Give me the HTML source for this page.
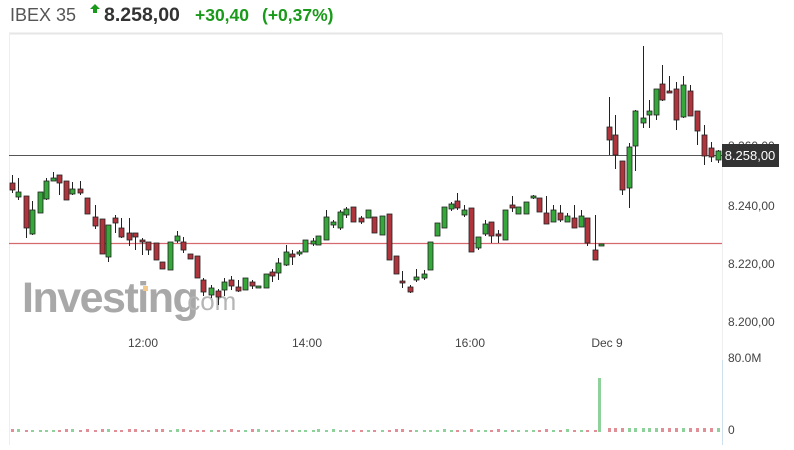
<!DOCTYPE html>
<html><head><meta charset="utf-8"><style>
body{margin:0;background:#fff;width:794px;height:445px;overflow:hidden;font-family:"Liberation Sans",Arial,sans-serif;}
</style></head><body>
<svg id="s" width="794" height="445" xmlns="http://www.w3.org/2000/svg" font-family="Liberation Sans, Arial, sans-serif">
<text x="10" y="21" font-size="18" fill="#555">IBEX 35</text>
<polygon points="95,4 100,9 97,9 97,13 93,13 93,9 90,9" fill="#1a9a1a"/>
<text x="104" y="21" font-size="19.5" font-weight="bold" fill="#333">8.258,00</text>
<text x="195" y="21" font-size="17.5" font-weight="bold" fill="#1a9a1a">+30,40</text>
<text x="262" y="21" font-size="17.5" font-weight="bold" fill="#1a9a1a">(+0,37%)</text>
<line x1="9" y1="33.5" x2="722" y2="33.5" stroke="#e6e6e6" stroke-width="2"/>
<line x1="9.5" y1="33" x2="9.5" y2="445" stroke="#eee"/>
<line x1="722.5" y1="33" x2="722.5" y2="360" stroke="#eee"/>
<line x1="722.5" y1="360" x2="722.5" y2="445" stroke="#cfe0ee"/>
<text x="22" y="312" font-size="43" font-weight="bold" fill="#a8a8a8" letter-spacing="-1.5">Investing</text>
<text x="180" y="310" font-size="26" fill="#b5b5b5">.com</text>
<rect x="143" y="286" width="5" height="5" fill="#f2c98a"/>
<line x1="9" y1="155.5" x2="722" y2="155.5" stroke="#555"/>
<line x1="9" y1="243.5" x2="722" y2="243.5" stroke="#d46a70" stroke-width="1.2"/>
<g font-size="12" fill="#444">
<text x="728" y="150">8.260,00</text>
<text x="728" y="210">8.240,00</text>
<text x="728" y="268">8.220,00</text>
<text x="728" y="326">8.200,00</text>
<text x="728" y="362">80.0M</text>
<text x="728" y="434">0</text>
<text x="143" y="347" text-anchor="middle">12:00</text>
<text x="307" y="347" text-anchor="middle">14:00</text>
<text x="470" y="347" text-anchor="middle">16:00</text>
<text x="607" y="347" text-anchor="middle">Dec 9</text>
</g>
<rect x="722" y="144" width="57" height="23" fill="#333"/>
<text x="750" y="160" font-size="13" fill="#fff" text-anchor="middle">8.258,00</text>
<g id="c"></g>
</svg>
<script>
var d=[[12,'r',183,190,175,193],[18,'g',192,197,178,200],[26,'r',196,228,196,238],[32,'g',210,234,201,235],[40,'g',192,213,192,213],[46,'g',181,199,178,200],[53,'g',178,181,172,181],[59,'r',175,183,175,195],[66,'r',181,200,181,200],[72,'g',189,194,182,195],[80,'r',189,193,181,195],[87,'r',198,214,198,214],[95,'r',217,226,205,229],[102,'r',219,254,219,254],[108,'g',225,257,225,262],[115,'r',218,223,215,233],[121,'r',228,237,218,238],[129,'r',233,240,218,246],[135,'r',233,237,233,250],[142,'r',240,242,238,255],[148,'r',242,250,243,255],[156,'r',243,260,243,260],[162,'r',262,269,262,269],[170,'g',242,270,242,270],[177,'g',236,241,231,243],[183,'r',242,250,237,253],[190,'r',254,259,254,259],[197,'r',256,278,256,278],[203,'r',280,292,278,296],[211,'g',288,295,285,298],[218,'r',291,297,289,305],[224,'g',282,290,278,296],[231,'r',280,286,276,290],[238,'r',287,291,280,292],[245,'g',278,290,278,290],[252,'r',282,286,280,289],[258,'g',286,288,286,288],[266,'g',274,288,274,288],[272,'r',272,276,269,282],[278,'g',263,273,258,280],[286,'g',252,265,245,266],[292,'r',254,257,250,265],[299,'g',252,254,250,256],[305,'g',240,252,240,252],[313,'g',241,244,238,246],[318,'g',236,245,236,245],[326,'g',217,240,210,240],[333,'g',222,225,220,228],[340,'g',212,228,210,230],[346,'g',209,215,207,218],[353,'r',207,222,207,222],[361,'r',218,222,216,224],[368,'g',210,218,210,218],[374,'r',217,233,217,233],[382,'g',216,235,216,235],[389,'r',214,260,214,260],[396,'r',256,274,256,274],[402,'r',281,283,271,288],[410,'r',287,292,285,293],[416,'g',277,280,269,282],[424,'g',274,278,270,280],[430,'g',242,270,242,270],[437,'g',223,236,223,236],[444,'g',207,228,207,228],[451,'g',204,209,202,211],[457,'r',201,208,193,210],[464,'g',210,215,205,217],[471,'r',208,252,208,252],[478,'g',237,248,237,250],[485,'g',224,234,220,236],[491,'r',222,236,222,243],[498,'r',234,236,230,243],[505,'g',210,240,210,240],[512,'r',205,208,196,212],[518,'g',207,214,207,214],[526,'g',202,214,202,214],[533,'g',196,198,195,199],[539,'r',198,212,198,212],[546,'r',213,224,196,224],[553,'g',210,222,205,222],[560,'r',213,220,205,222],[567,'g',216,222,213,222],[574,'r',218,228,205,228],[581,'g',216,227,210,227],[587,'r',218,243,218,246],[595,'r',250,260,215,260],[601,'g',244,245,244,245],
[609,'r',127,140,97,155],[615,'r',135,155,115,169],[622,'r',161,190,161,195],[629,'g',147,188,143,208],[635,'g',111,146,110,171],[643,'g',118,123,46,128],[649,'g',111,115,100,128],[656,'g',89,115,89,120],[662,'r',84,100,65,101],[669,'r',91,93,76,93],[676,'r',89,120,82,130],[683,'g',85,117,76,118],[690,'r',91,116,85,116],[697,'r',111,131,111,145],[704,'r',135,156,125,165],[711,'r',148,157,142,162],[718,'g',151,160,150,163]];
var h='';
d.forEach(function(c){var bf=c[1]=='g'?'#36a83b':'#b0343c';
h+='<line x1="'+(c[0]+.5)+'" x2="'+(c[0]+.5)+'" y1="'+c[4]+'" y2="'+c[5]+'" stroke="#222"/>';
h+='<rect x="'+(c[0]-2)+'" y="'+c[2]+'" width="5" height="'+Math.max(2,c[3]-c[2])+'" fill="'+bf+'" stroke="#222" stroke-width="0.8"/>';
var vh=(c[0]==601)?54:(c[0]>600?4:2+(c[0]%3==0?1:0));var vy=432-vh;var vx=c[0]==601?599:c[0];
h+='<rect x="'+(vx-1)+'" y="'+vy+'" width="3" height="'+vh+'" fill="'+(c[1]=='g'?'#8fd19a':'#e08f96')+'"/>';});
document.getElementById('c').innerHTML=h;
</script>
</body></html>
